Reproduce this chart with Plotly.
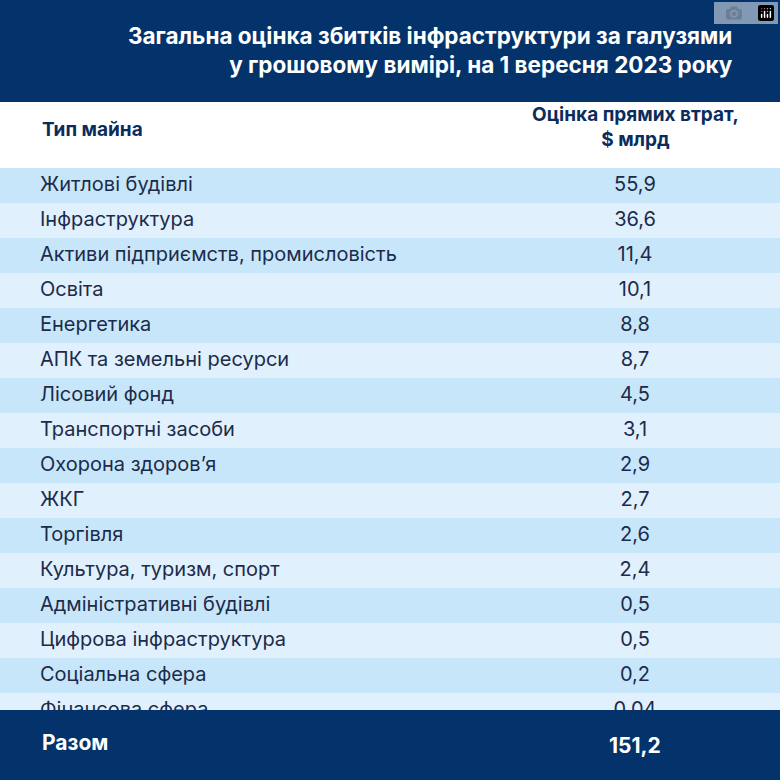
import plotly.graph_objects as go

categories = ["Житлові будівлі", "Інфраструктура", "Активи підприємств, промисловість", "Освіта",
              "Енергетика", "АПК та земельні ресурси", "Лісовий фонд", "Транспортні засоби",
              "Охорона здоров’я", "ЖКГ", "Торгівля", "Культура, туризм, спорт",
              "Адміністративні будівлі", "Цифрова інфраструктура", "Соціальна сфера", "Фінансова сфера"]
values = ["55,9", "36,6", "11,4", "10,1", "8,8", "8,7", "4,5", "3,1", "2,9", "2,7", "2,6", "2,4",
          "0,5", "0,5", "0,2", "0,04"]
total_label = "Разом"
total_value = "151,2"
headers = ["Тип майна", "Оцінка прямих втрат,<br>$ млрд"]
title = "Загальна оцінка збитків інфраструктури за галузями<br>у грошовому вимірі, на 1 вересня 2023 року"

NAVY = "#03336a"
A, B = "#c8e6fa", "#e0f0fc"
fills = [A if i % 2 == 0 else B for i in range(len(categories))]
W, H = 780, 780

fig = go.Figure(go.Table(
    domain=dict(x=[0, 1], y=[1 - 712 / H, 1 - 152 / H]),
    columnwidth=[32, 458, 290],
    header=dict(values=None, height=0, line=dict(width=0), fill_color="rgba(0,0,0,0)"),
    cells=dict(values=[[""] * len(categories), categories, values],
               fill_color=[fills, fills, fills],
               line=dict(color=[fills, fills, fills], width=1),
               align=["left", "left", "center"], height=35,
               font=dict(family="Inter", size=20, color="#1c2b4a")),
))
fig.add_shape(type="rect", xref="paper", yref="paper", x0=0, x1=1, y0=1 - 102 / H, y1=1,
              fillcolor=NAVY, line_width=0, layer="below")
fig.add_shape(type="rect", xref="paper", yref="paper", x0=0, x1=1, y0=0, y1=1 - 710 / H,
              fillcolor=NAVY, line_width=0)
fig.add_annotation(xref="paper", yref="paper", x=735 / W, y=1 - 50 / H, xanchor="right", yanchor="middle",
                   text="<b>" + title + "</b>", align="right", showarrow=False,
                   font=dict(family="Inter", size=22.5, color="white"))
fig.add_annotation(xref="paper", yref="paper", x=40 / W, y=1 - 130 / H, xanchor="left", yanchor="middle",
                   text="<b>" + headers[0] + "</b>", showarrow=False,
                   font=dict(family="Inter", size=19, color="#0b2c5c"))
fig.add_annotation(xref="paper", yref="paper", x=635 / W, y=1 - 127 / H, xanchor="center", yanchor="middle",
                   text="<b>" + headers[1] + "</b>", showarrow=False, align="center",
                   font=dict(family="Inter", size=19, color="#0b2c5c"))
fig.add_annotation(xref="paper", yref="paper", x=40 / W, y=1 - 742 / H, xanchor="left", yanchor="middle",
                   text="<b>" + total_label + "</b>", showarrow=False,
                   font=dict(family="Inter", size=21, color="white"))
fig.add_annotation(xref="paper", yref="paper", x=635 / W, y=1 - 745 / H, xanchor="center", yanchor="middle",
                   text="<b>" + total_value + "</b>", showarrow=False,
                   font=dict(family="Inter", size=21, color="white"))
fig.update_layout(width=W, height=H, margin=dict(l=0, r=0, t=0, b=0),
                  paper_bgcolor="white", plot_bgcolor="white")
fig.write_html("out.html", post_script="document.body.style.margin='0';document.body.style.overflow='hidden';")
